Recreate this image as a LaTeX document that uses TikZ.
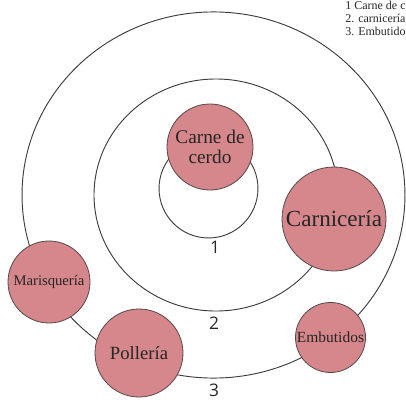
\documentclass[tikz,border=0pt]{standalone}
\usepackage{fontspec}
\setmainfont{Liberation Serif}
\newfontfamily\digitos{Open Sans}
\definecolor{rosa}{RGB}{214,135,139}
\definecolor{borde}{RGB}{85,72,72}
\definecolor{anillo}{RGB}{60,60,60}
\begin{document}
\begin{tikzpicture}[x=0.75pt,y=-0.75pt,
  burbuja/.style={circle,draw=borde,fill=rosa,line width=0.6pt,inner sep=0pt,align=center,text=black!85},
  numero/.style={font=\digitos\fontsize{13}{14}\selectfont,text=black!85,inner sep=0pt},
  aro/.style={draw=anillo,line width=0.7pt}]
  \clip (0,0) rectangle (406,399);
  % anillos
  \draw[aro] (213.5,195) ellipse [x radius=143.6pt,y radius=137.3pt];
  \draw[aro] (216,195) ellipse [x radius=91.5pt,y radius=87pt];
  \draw[aro] (208.5,188.5) circle (37.1pt);
  \node[numero] (n1) at (215,247) {1};
  \node[numero] (n2) at (214,323) {2};
  \node[numero] (n3) at (214,390) {3};
  % burbujas
  \node[burbuja,minimum size=64.5pt,font=\fontsize{14.5}{15.5}\selectfont] (carne) at (210,147) {Carne de\\cerdo};
  \node[burbuja,minimum size=78pt,font=\fontsize{17.3}{18}\selectfont] (carniceria) at (334,219) {Carnicería};
  \node[burbuja,minimum size=61.5pt,font=\fontsize{11}{12}\selectfont] (marisqueria) at (49,282) {Marisquería};
  \node[burbuja,minimum size=66pt,font=\fontsize{14}{15}\selectfont] (polleria) at (139,353) {Pollería};
  \node[burbuja,minimum size=52.5pt,font=\fontsize{11.6}{12}\selectfont] (embutidos) at (330.5,337.5) {Embutidos};
  % leyenda
  \node[anchor=north west,align=left,inner sep=0pt,text=black!85,font=\fontsize{9}{9.6}\selectfont] (leyenda) at (345,1) {1 Carne de c\\2. carnicería\\3. Embutido};
\end{tikzpicture}
\end{document}
